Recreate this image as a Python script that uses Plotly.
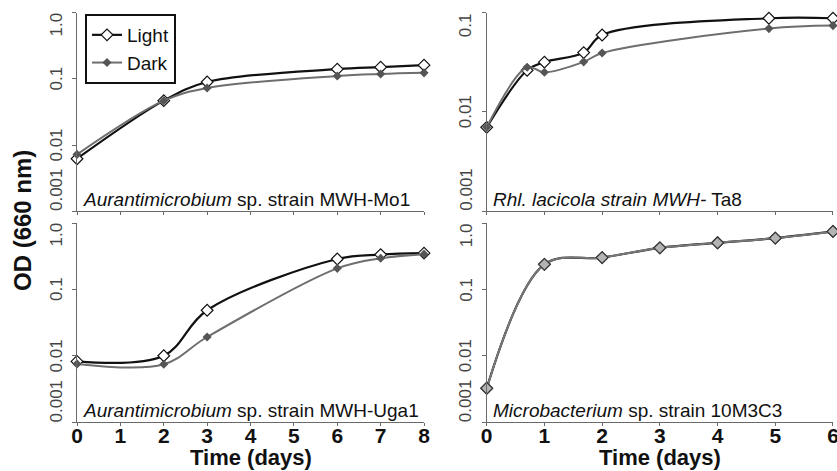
import math
import plotly.graph_objects as go

# ---------------- data ----------------
days_mo1 = [0, 2, 3, 6, 7, 8]
mo1_light = [0.0062, 0.047, 0.090, 0.141, 0.151, 0.162]
mo1_dark = [0.0072, 0.047, 0.073, 0.111, 0.119, 0.124]

days_ta8 = [0, 0.7, 1, 1.68, 2, 4.89, 6]
ta8_light = [0.0070, 0.0264, 0.0319, 0.0398, 0.060, 0.0885, 0.0885]
ta8_dark = [0.0070, 0.0283, 0.0252, 0.0321, 0.0395, 0.0696, 0.0746]

days_uga1 = [0, 2, 3, 6, 7, 8]
uga1_light = [0.0083, 0.0101, 0.0488, 0.288, 0.335, 0.352]
uga1_dark = [0.0076, 0.0075, 0.0193, 0.208, 0.295, 0.340]

days_m10 = [0, 1, 2, 3, 4, 5, 6]
m10_light = [0.00327, 0.239, 0.302, 0.423, 0.504, 0.593, 0.748]
m10_dark = [0.00327, 0.239, 0.302, 0.423, 0.504, 0.593, 0.748]

ytick_vals_full = [0.001, 0.01, 0.1, 1.0]
ytick_text_full = ["0.001", "0.01", "0.1", "1.0"]
ytick_vals_ta8 = [0.001, 0.01, 0.1]
ytick_text_ta8 = ["0.001", "0.01", "0.1"]
xticks_8 = [0, 1, 2, 3, 4, 5, 6, 7, 8]
xticks_6 = [0, 1, 2, 3, 4, 5, 6]

labels = [
    "<i>Aurantimicrobium</i> sp. strain MWH-Mo1",
    "<i>Rhl. lacicola strain MWH-</i> Ta8",
    "<i>Aurantimicrobium</i> sp. strain MWH-Uga1",
    "<i>Microbacterium</i> sp. strain 10M3C3",
]
x_title = "Time (days)"
y_title = "OD (660 nm)"

# ---------------- styling ----------------
FONT = "Liberation Sans, Arial, sans-serif"
AX = "#6a6a6a"
LEFT = [0.092, 0.5066]
RIGHT = [0.5815, 0.9952]
TOP = [0.552, 0.9724]
BOT = [0.103, 0.5265]

panels = [
    dict(n="", xd=LEFT, yd=TOP, days=days_mo1, light=mo1_light, dark=mo1_dark,
         xr=[0, 8], xt=xticks_8, yr=[-3, 0], yv=ytick_vals_full, yt=ytick_text_full, xl=False),
    dict(n="2", xd=RIGHT, yd=TOP, days=days_ta8, light=ta8_light, dark=ta8_dark,
         xr=[0, 6], xt=xticks_6, yr=[-3, -1], yv=ytick_vals_ta8, yt=ytick_text_ta8, xl=False),
    dict(n="3", xd=LEFT, yd=BOT, days=days_uga1, light=uga1_light, dark=uga1_dark,
         xr=[0, 8], xt=xticks_8, yr=[-3, 0], yv=ytick_vals_full, yt=ytick_text_full, xl=True),
    dict(n="4", xd=RIGHT, yd=BOT, days=days_m10, light=m10_light, dark=m10_dark,
         xr=[0, 6], xt=xticks_6, yr=[-3, 0], yv=ytick_vals_full, yt=ytick_text_full, xl=True),
]

fig = go.Figure()
layout = dict(
    width=837, height=471,
    margin=dict(l=0, r=0, t=0, b=0),
    paper_bgcolor="white", plot_bgcolor="white",
    font=dict(family=FONT, color="#111"),
    showlegend=True,
    legend=dict(x=85 / 837, y=1 - 14 / 471, xanchor="left", yanchor="top",
                bordercolor="#111", borderwidth=2, bgcolor="white",
                font=dict(size=19, family=FONT, color="#111"),
                itemwidth=30, tracegroupgap=0),
)
annotations = []

for i, p in enumerate(panels):
    n = p["n"]
    xa, ya = "x" + n, "y" + n
    last = (n == "4")
    fig.add_trace(go.Scatter(
        x=p["days"], y=p["light"], xaxis=xa, yaxis=ya, name="Light",
        mode="lines+markers", line=dict(color="#111", width=2.2, shape="spline", smoothing=1),
        marker=dict(symbol="diamond", size=9, color="white", line=dict(color="#111", width=1.2)),
        cliponaxis=False, showlegend=(i == 0)))
    if last:
        dmarker = dict(symbol="diamond", size=9, color="#b4b4b4", line=dict(color="#3a3a3a", width=1.2))
        dline = dict(color="#777", width=2, shape="spline", smoothing=1)
    else:
        dmarker = dict(symbol="diamond", size=7, color="#555", line=dict(width=0))
        dline = dict(color="#6e6e6e", width=2, shape="spline", smoothing=1)
    fig.add_trace(go.Scatter(
        x=p["days"], y=p["dark"], xaxis=xa, yaxis=ya, name="Dark",
        mode="lines+markers", line=dline, marker=dmarker,
        cliponaxis=False, showlegend=(i == 0)))

    xkey = "xaxis" + n
    ykey = "yaxis" + n
    layout[xkey] = dict(
        domain=p["xd"], anchor=ya, range=p["xr"], tickvals=p["xt"],
        ticktext=["<b>%d</b>" % t for t in p["xt"]],
        showgrid=False, zeroline=False, showline=True, linecolor=AX, linewidth=1,
        ticks="outside", ticklen=3, tickcolor=AX, showticklabels=p["xl"],
        tickfont=dict(size=21, family=FONT, color="#111"),
        ticklabeloverflow="allow", ticklabelstandoff=-9,
        automargin=False,
    )
    layout[ykey] = dict(
        domain=p["yd"], anchor=xa, type="log", range=p["yr"], tickvals=p["yv"],
        showgrid=False, zeroline=False, showline=True, linecolor=AX, linewidth=1,
        ticks="outside", ticklen=4, tickcolor=AX, showticklabels=False,
        automargin=False,
    )
    # rotated tick labels, end labels kept inside the axis extent
    nt = len(p["yv"])
    for k, (v, t) in enumerate(zip(p["yv"], p["yt"])):
        if k == 0:
            yanc = "bottom"
        elif k == nt - 1:
            yanc = "top"
        else:
            yanc = "middle"
        annotations.append(dict(
            xref=xa + " domain", yref=ya, x=0, y=math.log10(v), text=t,
            textangle=-90, xanchor="right", yanchor=yanc, xshift=-11,
            showarrow=False, borderpad=0, borderwidth=0,
            font=dict(size=17, family=FONT, color="#444")))
    annotations.append(dict(
        xref=xa + " domain", yref=ya + " domain", x=0.017, y=0, text=labels[i],
        xanchor="left", yanchor="bottom", yshift=1, showarrow=False,
        borderpad=0, borderwidth=0,
        font=dict(size=19, family=FONT, color="#111")))
    if p["xl"]:
        annotations.append(dict(
            xref=xa + " domain", yref="paper", x=0.5, y=0, text="<b>%s</b>" % x_title,
            xanchor="center", yanchor="bottom", yshift=1, showarrow=False,
            borderpad=0, borderwidth=0,
            font=dict(size=22, family=FONT, color="#111")))

annotations.append(dict(
    xref="paper", yref="paper", x=22 / 837, y=1 - 221 / 471, text="<b>%s</b>" % y_title,
    textangle=-90, xanchor="center", yanchor="middle", showarrow=False,
    font=dict(size=24, family=FONT, color="#111")))

layout["annotations"] = annotations
fig.update_layout(**layout)
fig.write_html("out.html")
